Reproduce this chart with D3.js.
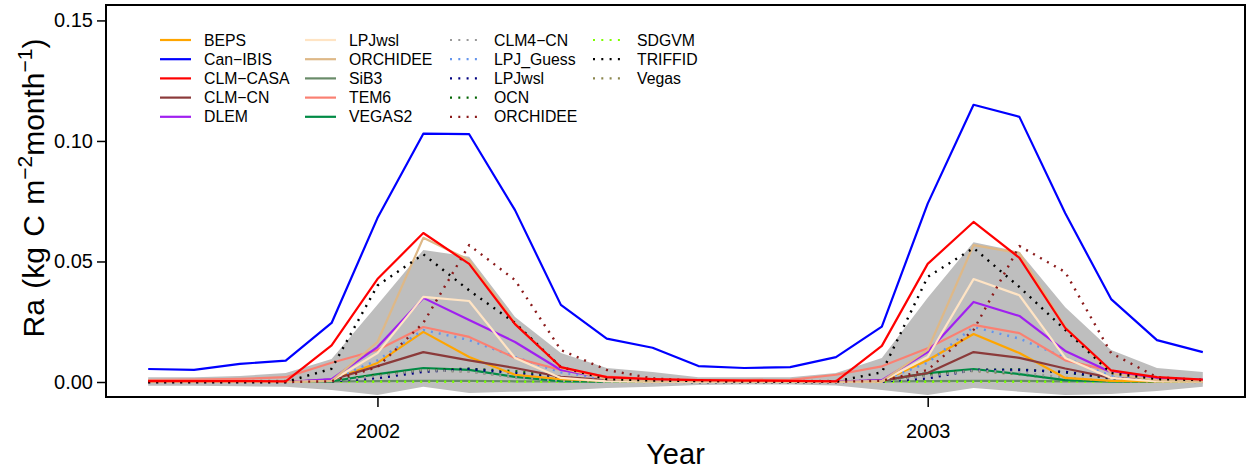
<!DOCTYPE html>
<html><head><meta charset="utf-8">
<script src="https://cdn.jsdelivr.net/npm/d3@7"></script>
<style>body{margin:0;background:#fff;} text{font-family:"Liberation Sans",Arial,Helvetica,sans-serif;}</style>
</head><body>
<svg id="chart" width="1247" height="473"></svg>
<script>
// ---- data (monthly, Jan 2002 .. Dec 2003) ----
const months = d3.range(24);
const xTickIndex = [5, 17];
const xTickLabels = ["2002", "2003"];
const yTicks = [0, 0.05, 0.10, 0.15];

const names = ["BEPS","Can\u2212IBIS","CLM\u2212CASA","CLM\u2212CN","DLEM","LPJwsl","ORCHIDEE","SiB3","TEM6","VEGAS2",
               "CLM4\u2212CN","LPJ_Guess","LPJwsl","OCN","ORCHIDEE","SDGVM","TRIFFID","Vegas"];
const colors = ["#FFA500","#0000FF","#FF0000","#8B3A3A","#A020F0","#FFE4C4","#DEB887","#698B69","#FA8072","#008B45",
                "#999999","#6495ED","#000080","#006400","#8B1A1A","#7FFF00","#000000","#8B864E"];
const dotted = [false,false,false,false,false,false,false,false,false,false,
                true,true,true,true,true,true,true,true];

const BEPS      = [0,0,0,0,0.0008,0.0079,0.0208,0.0104,0.003,0.0012,0.0005,0.0003,0.0002,0.0002,0.0002,0.0002,0.0003,0.009,0.0199,0.012,0.0017,0.0005,0.0003,0.0002];
const CanIBIS   = [0.0054,0.005,0.0075,0.0089,0.0245,0.068,0.103,0.1028,0.0713,0.032,0.018,0.0142,0.0066,0.0058,0.0062,0.0103,0.023,0.074,0.115,0.110,0.070,0.0344,0.0174,0.0124];
const CLMCASA   = [0.0004,0.0004,0.0004,0.0003,0.0152,0.0427,0.0618,0.049,0.024,0.0062,0.002,0.0012,0.0008,0.0006,0.0005,0.0003,0.015,0.049,0.0664,0.0515,0.0224,0.0048,0.002,0.001];
const CLMCN     = [0,0,0,0,0.001,0.0066,0.0124,0.009,0.0058,0.0021,0.0008,0.0004,0.0002,0.0001,0.0001,0.0001,0.0006,0.0037,0.0124,0.010,0.0056,0.0017,0.0008,0.0004];
const DLEM      = [0,0,0,0,0.0012,0.0145,0.0349,0.0257,0.0166,0.005,0.0015,0.0006,0.0003,0.0002,0.0002,0.0002,0.0008,0.0124,0.0332,0.0274,0.0129,0.004,0.0017,0.0009];
const LPJwsl    = [0,0,0,0,0.0005,0.012,0.0353,0.0336,0.010,0.0017,0.0003,0.0001,0,0,0,0,0.0003,0.0104,0.0427,0.036,0.010,0.0017,0.0003,0.0001];
const ORCHIDEE  = [0,0,0,0,0.0005,0.0166,0.0598,0.0506,0.0245,0.0058,0.0012,0.0004,0.0002,0.0001,0.0001,0.0001,0.0004,0.0133,0.0568,0.0535,0.0228,0.0037,0.0008,0.0003];
const SiB3      = [0.0001,0.0001,0.0001,0.0001,0.0002,0.0004,0.0005,0.0005,0.0003,0.0002,0.0001,0.0001,0.0001,0.0001,0.0001,0.0001,0.0002,0.0004,0.0005,0.0005,0.0003,0.0002,0.0001,0.0001];
const TEM6      = [0.0008,0.001,0.0013,0.002,0.008,0.0133,0.0228,0.0187,0.010,0.005,0.0022,0.0012,0.0008,0.0008,0.0009,0.003,0.0065,0.014,0.0237,0.0203,0.009,0.0046,0.0017,0.0008];
const VEGAS2    = [0,0,0,0,0.0003,0.0033,0.0058,0.005,0.0021,0.0004,0.0001,0,0,0,0,0,0.0006,0.0037,0.0054,0.0033,0.0008,0.0002,0,0];
const CLM4CN    = [0,0,0,0,0.0004,0.0025,0.005,0.0042,0.002,0.0005,0.0001,0,0,0,0,0,0.0004,0.0025,0.0048,0.004,0.0018,0.0005,0.0001,0];
const LPJGuess  = [0,0,0,0,0.001,0.009,0.0216,0.0174,0.0104,0.004,0.0012,0.0005,0.0002,0.0001,0.0001,0.0001,0.0005,0.008,0.0228,0.018,0.010,0.0025,0.0008,0.0003];
const LPJwslDot = [0,0,0,0,0.0002,0.0016,0.0042,0.0054,0.0037,0.0017,0.0005,0.0002,0,0,0,0,0.0002,0.0015,0.005,0.005,0.0042,0.0017,0.0005,0.0002];
const OCN       = [0,0,0,0,0.0003,0.003,0.005,0.0055,0.0045,0.002,0.0005,0.0002,0,0,0,0,0.0003,0.003,0.005,0.0052,0.004,0.0015,0.0005,0.0002];
const ORCHIDEEDot = [0,0,0,0,0.0003,0.0062,0.0245,0.0568,0.0423,0.0133,0.005,0.0015,0.0005,0.0002,0.0001,0.0001,0.0005,0.005,0.0216,0.0564,0.0456,0.012,0.002,0.0008];
const SDGVM     = [0.0001,0.0001,0.0001,0.0001,0.0001,0.0001,0.0001,0.0001,0.0001,0.0001,0.0001,0.0001,0.0001,0.0001,0.0001,0.0001,0.0001,0.0001,0.0001,0.0001,0.0001,0.0001,0.0001,0.0001];
const TRIFFID   = [0,0,0,0,0.0055,0.040,0.053,0.038,0.0245,0.0062,0.0012,0.0006,0.0004,0.0003,0.0003,0.0003,0.004,0.0436,0.0556,0.0394,0.0216,0.0037,0.0012,0.0008];
const Vegas     = [0.0004,0.0004,0.0004,0.0004,0.0006,0.0028,0.0048,0.0044,0.002,0.0006,0.0004,0.0004,0.0004,0.0004,0.0004,0.0004,0.0006,0.003,0.0046,0.0032,0.001,0.0005,0.0004,0.0004];

const bandUpper = [0.002,0.002,0.0025,0.0037,0.0095,0.032,0.0548,0.052,0.027,0.012,0.0058,0.0042,0.002,0.002,0.002,0.0037,0.010,0.035,0.058,0.054,0.031,0.0133,0.0058,0.0042];
const bandLower = [-0.0016,-0.0016,-0.0018,-0.002,-0.0033,-0.0054,-0.002,-0.0046,-0.004,-0.0035,-0.0025,-0.002,-0.0012,-0.001,-0.001,-0.0015,-0.0033,-0.0054,-0.0025,-0.004,-0.0054,-0.005,-0.0037,-0.002];

const seriesValues = [BEPS,CanIBIS,CLMCASA,CLMCN,DLEM,LPJwsl,ORCHIDEE,SiB3,TEM6,VEGAS2,
                      CLM4CN,LPJGuess,LPJwslDot,OCN,ORCHIDEEDot,SDGVM,TRIFFID,Vegas];

// ---- layout ----
const L = 106, R = 1245, T = 5, B = 397;
const svg = d3.select("#chart");
const x = d3.scaleLinear().domain([-0.92, 23.92]).range([L, R]);
const y = d3.scaleLinear().domain([-0.00622, 0.1564]).range([B, T]);

// band
const area = d3.area().x((d,i)=>x(months[i])).y0((d,i)=>y(bandLower[i])).y1((d,i)=>y(bandUpper[i]));
svg.append("path").datum(bandUpper).attr("d", area).attr("fill", "#BEBEBE");

// lines
const line = d3.line().x((d,i)=>x(months[i])).y(d=>y(d));
const order = [7,15,17,9,13,12,10,0,3,11,8,4,5,6,14,16,2,1];
order.forEach(k => {
  svg.append("path").datum(seriesValues[k]).attr("d", line)
    .attr("fill","none").attr("stroke", colors[k])
    .attr("stroke-width", dotted[k] ? 2.4 : 2.2)
    .attr("stroke-linejoin","round")
    .attr("stroke-dasharray", dotted[k] ? "2,6" : null);
});

// box
svg.append("rect").attr("x", L).attr("y", T).attr("width", R-L).attr("height", B-T)
  .attr("fill","none").attr("stroke","#000").attr("stroke-width",2);

// y axis
const yAxis = svg.append("g").attr("transform", `translate(${L},0)`)
  .call(d3.axisLeft(y).tickValues(yTicks).tickFormat(d3.format(".2f")).tickSize(9).tickPadding(4));
yAxis.select(".domain").remove();
yAxis.selectAll("line").attr("stroke","#000").attr("stroke-width",1.5);
yAxis.selectAll("text").attr("font-size", 20).attr("fill","#000").attr("font-family","Liberation Sans, Arial, sans-serif");

// x axis
const xAxis = svg.append("g").attr("transform", `translate(0,${B})`)
  .call(d3.axisBottom(x).tickValues(xTickIndex).tickFormat((d,i)=>xTickLabels[i]).tickSize(10).tickPadding(17));
xAxis.select(".domain").remove();
xAxis.selectAll("line").attr("stroke","#000").attr("stroke-width",1.5);
xAxis.selectAll("text").attr("font-size", 20).attr("fill","#000").attr("font-family","Liberation Sans, Arial, sans-serif");

// axis titles
svg.append("text").attr("x", (L+R)/2 - 0).attr("y", 464).attr("text-anchor","middle")
  .attr("font-size", 29).text("Year");

const yl = svg.append("text").attr("transform","translate(44,188) rotate(-90)")
  .attr("text-anchor","middle").attr("font-size", 30).attr("word-spacing", 2);
yl.append("tspan").text("Ra (kg C m");
yl.append("tspan").attr("font-size", 21).attr("dy", -12).text("\u22122");
yl.append("tspan").attr("dy", 12).text("month");
yl.append("tspan").attr("font-size", 21).attr("dy", -12).text("\u22121");
yl.append("tspan").attr("dy", 12).text(")");

// legend
const colX = [160, 305, 450, 593];
const rowY0 = 40, rowH = 19.2;
const legendCols = [[0,1,2,3,4],[5,6,7,8,9],[10,11,12,13,14],[15,16,17]];
legendCols.forEach((col, ci) => {
  col.forEach((k, ri) => {
    const yy = rowY0 + ri*rowH;
    svg.append("line").attr("x1", colX[ci]).attr("x2", colX[ci]+31).attr("y1", yy).attr("y2", yy)
      .attr("stroke", colors[k]).attr("stroke-width", 2.2)
      .attr("stroke-dasharray", dotted[k] ? "2,6.3" : null);
    svg.append("text").attr("x", colX[ci]+44).attr("y", yy).attr("dy","0.36em")
      .attr("font-size", 15.8).attr("fill","#000").text(names[k]);
  });
});
</script>
</body></html>
